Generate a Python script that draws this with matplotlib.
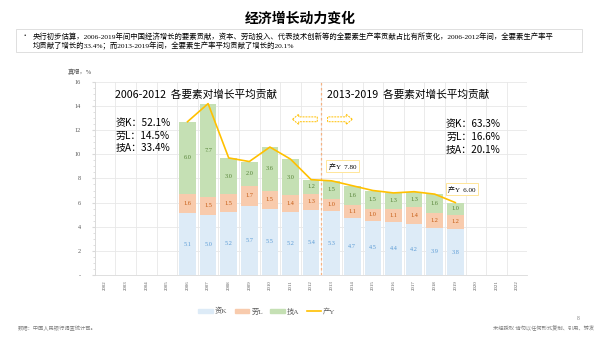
import matplotlib.pyplot as plt
import matplotlib.patches as mpatches
from matplotlib.lines import Line2D
import numpy as np

plt.rcParams['font.family'] = ['Noto Sans CJK SC', 'DejaVu Sans']
SERIF = ['Liberation Serif', 'Noto Sans CJK SC']

# data
years = [str(y) for y in range(2002, 2023)]
data_years = [str(y) for y in range(2006, 2020)]
capital = [5.1, 5.0, 5.2, 5.7, 5.5, 5.2, 5.4, 5.3, 4.7, 4.5, 4.4, 4.2, 3.9, 3.8]
labour = [1.6, 1.5, 1.5, 1.7, 1.5, 1.4, 1.3, 1.0, 1.1, 1.0, 1.1, 1.4, 1.2, 1.2]
tech = [6.0, 7.7, 3.0, 2.0, 3.6, 3.0, 1.2, 1.5, 1.6, 1.5, 1.3, 1.3, 1.6, 1.0]
output = [12.7, 14.2, 9.7, 9.4, 10.6, 9.6, 7.9, 7.8, 7.4, 7.0, 6.8, 6.9, 6.7, 6.0]

share_0612 = ["资K：52.1%", "劳L：14.5%", "技A：33.4%"]
share_1319 = ["资K：63.3%", "劳L：16.6%", "技A：20.1%"]

c_k, c_l, c_a, c_y = '#DDEBF7', '#F8CBAD', '#C5E0B4', '#FFC000'
t_k, t_l, t_a = '#5B9BD5', '#C55A11', '#548235'

fig = plt.figure(figsize=(6, 3.37), dpi=100)
ax = fig.add_axes([0.158, 0.184, 0.721, 0.573])

x = np.array([years.index(y) for y in data_years])
k = np.array(capital)
l = np.array(labour)
a = np.array(tech)
w = 0.81
ax.bar(x, k, w, color=c_k, zorder=2)
ax.bar(x, l, w, bottom=k, color=c_l, zorder=2)
ax.bar(x, a, w, bottom=k + l, color=c_a, zorder=2)
ax.plot(x, output, color=c_y, lw=1.2, zorder=4)

for xi, kv, lv, av in zip(x, k, l, a):
    ax.text(xi, kv / 2, f"{kv:.1f}", ha='center', va='center', fontsize=4.5, color=t_k, family=SERIF, zorder=5)
    ax.text(xi, kv + lv / 2, f"{lv:.1f}", ha='center', va='center', fontsize=4.5, color=t_l, family=SERIF, zorder=5)
    ax.text(xi, kv + lv + av / 2, f"{av:.1f}", ha='center', va='center', fontsize=4.5, color=t_a, family=SERIF, zorder=5)

ax.set_xlim(-0.5, len(years) - 0.5)
ax.set_ylim(0, 16)
ax.set_xticks(range(len(years)))
ax.set_xticklabels(years, rotation=90, fontsize=3.5, color='#595959', family=SERIF)
ax.set_yticks(range(0, 17, 2))
ax.set_yticklabels(['-'] + [str(v) for v in range(2, 17, 2)], fontsize=4.5, color='#595959', family=SERIF)
ax.set_yticks(np.arange(0, 16.1, 0.5), minor=True)
ax.tick_params(axis='x', length=0, pad=4)
ax.tick_params(axis='y', which='both', length=2, color='#D9D9D9', pad=8)
ax.tick_params(axis='y', which='minor', length=1.5)
ax.grid(axis='y', color='#E8E8E8', lw=0.6, zorder=0)
for b in np.arange(-0.5, len(years), 1.0):
    ax.axvline(b, color='#E8E8E8', lw=0.6, zorder=0)
for s in ['top', 'right']:
    ax.spines[s].set_visible(False)
for s in ['left', 'bottom']:
    ax.spines[s].set_color('#D9D9D9')
    ax.spines[s].set_linewidth(0.6)

# split line and arrows
split = years.index('2012') + 0.5
ax.axvline(split, color='#F4B183', lw=0.9, ls=(0, (2, 2)), zorder=3)
for x0, dx in [(10.3, -1.2), (10.8, 1.2)]:
    ax.add_patch(mpatches.FancyArrow(x0, 12.9, dx, 0, width=0.4, head_width=0.85,
                                     head_length=0.3, length_includes_head=True,
                                     fc='white', ec=c_y, lw=0.7, ls=(0, (2, 1)), zorder=3))

# period texts
ax.text(0.5, 14.9, "2006-2012  各要素对增长平均贡献", fontsize=7.7, va='center', ha='left', zorder=6)
ax.text(10.75, 14.9, "2013-2019  各要素对增长平均贡献", fontsize=7.7, va='center', ha='left', zorder=6)
for i, s in enumerate(share_0612):
    ax.text(0.5, 12.6 - 1.05 * i, s, fontsize=7.2, va='center', ha='left', zorder=6)
for i, s in enumerate(share_1319):
    ax.text(19.2, 12.5 - 1.05 * i, s, fontsize=7.2, va='center', ha='right', zorder=6)

# callouts
box = dict(boxstyle='square,pad=0.35', fc='white', ec='#FFE699', lw=0.7)
i13 = years.index('2013')
i19 = years.index('2019')
ax.text(i13 - 0.15, output[data_years.index('2013')] + 1.2, f"产Y  {output[data_years.index('2013')]:.2f}",
        fontsize=5, family=SERIF, bbox=box, va='center', ha='left', zorder=7)
ax.text(i19 - 0.35, output[data_years.index('2019')] + 1.1, f"产Y  {output[data_years.index('2019')]:.2f}",
        fontsize=5, family=SERIF, bbox=box, va='center', ha='left', zorder=7)

# legend
handles = [mpatches.Patch(color=c_k, label='资K'), mpatches.Patch(color=c_l, label='劳L'),
           mpatches.Patch(color=c_a, label='技A'), Line2D([], [], color=c_y, lw=1.2, label='产Y')]
fig.legend(handles=handles, loc='center', bbox_to_anchor=(0.445, 0.077), ncol=4, frameon=False,
           prop={'family': SERIF, 'size': 5.2}, handlelength=2.0, handleheight=0.6,
           columnspacing=1.0, handletextpad=0.3, labelcolor='#595959')

# header and notes
fig.text(0.5, 0.945, "经济增长动力变化", ha='center', va='center', fontsize=10, fontweight='bold')
fig.patches.append(mpatches.Rectangle((0.027, 0.847), 0.943, 0.066, transform=fig.transFigure,
                                      fill=False, ec='#D9D9D9', lw=0.6))
fig.text(0.035, 0.893, "•", fontsize=4.5, va='center')
fig.text(0.055, 0.893, "央行初步估算，2006-2019年间中国经济增长的要素贡献，资本、劳动投入、代表技术创新等的全要素生产率贡献占比有所变化，2006-2012年间，全要素生产率平",
         fontsize=5.3, va='center', family=SERIF)
fig.text(0.055, 0.863, "均贡献了增长的33.4%；而2013-2019年间，全要素生产率平均贡献了增长的20.1%",
         fontsize=5.3, va='center', family=SERIF)
fig.text(0.112, 0.787, "真增，%", fontsize=4.5, va='center', color='#595959', family=SERIF)
fig.text(0.03, 0.02, "数据：中国人民银行调查统计司。", fontsize=3.8, color='#7F7F7F', family=SERIF)
fig.text(0.99, 0.02, "未经授权 请勿以任何形式复制、引用、转发", fontsize=3.8, color='#7F7F7F', ha='right', family=SERIF)
fig.text(0.962, 0.05, "8", fontsize=4, color='#7F7F7F', family=SERIF)

fig.savefig("out.png", dpi=100)
